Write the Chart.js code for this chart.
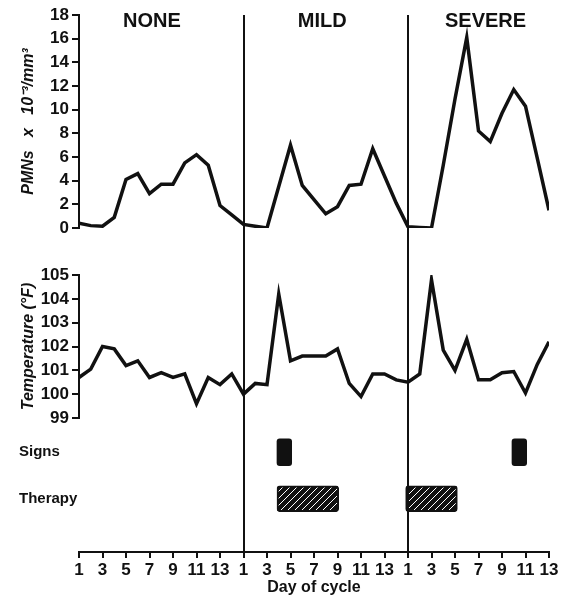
<!DOCTYPE html>
<html>
<head>
<meta charset="utf-8">
<title>PMNs and temperature by day of cycle</title>
<script src="https://cdn.jsdelivr.net/npm/chart.js@4.4.1/dist/chart.umd.min.js"></script>
<style>
  html, body { margin: 0; padding: 0; background: #fff; }
  #wrap { width: 565px; height: 596px; }
</style>
</head>
<body>
<div id="wrap"><canvas id="chart" width="565" height="596"></canvas></div>
<script>
// Day index runs 0..40 across the three cycles (14 + 14 + 13 days)
const cycleNames = ['NONE', 'MILD', 'SEVERE'];
const cycleStarts = [0, 14, 28];

// PMNs x 10^-3/mm^3, one value per day
const pmn = [
  0.4, 0.2, 0.15, 0.9, 4.1, 4.6, 2.9, 3.7, 3.7, 5.5, 6.2, 5.3, 1.9, 1.1,
  0.3, 0.15, 0.0, 3.5, 7.0, 3.6, 2.4, 1.2, 1.8, 3.6, 3.7, 6.7, 4.4, 2.1,
  0.1, 0.05, 0.0, 5.3, 10.9, 16.1, 8.2, 7.3, 9.7, 11.7, 10.3, 5.9, 1.5
];

// Temperature (°F), one value per day
const temperature = [
  100.7, 101.05, 102.0, 101.9, 101.2, 101.4, 100.7, 100.9, 100.7, 100.85, 99.6, 100.7, 100.4, 100.85,
  100.0, 100.45, 100.4, 104.2, 101.4, 101.6, 101.6, 101.6, 101.9, 100.45, 99.9, 100.85, 100.85, 100.6,
  100.5, 100.85, 104.8, 101.85, 101.0, 102.3, 100.6, 100.6, 100.9, 100.95, 100.05, 101.25, 102.2
];

// [start, end] on the day index
const signs = [[16.85, 18.1], [36.85, 38.1]];
const therapy = [[16.85, 22.1], [27.8, 32.2]];

const rowLabels = ['Signs', 'Therapy'];

const INK = '#111';
const FONT = '"Liberation Sans", Arial, sans-serif';
Chart.defaults.font.family = FONT;
Chart.defaults.color = INK;

function dayOfCycle(i) {
  let start = 0;
  cycleStarts.forEach(s => { if (i >= s) start = s; });
  return i - start + 1;
}

function hatchPattern() {
  const c = document.createElement('canvas');
  c.width = 7;
  c.height = 7;
  const g = c.getContext('2d');
  g.fillStyle = INK;
  g.fillRect(0, 0, 7, 7);
  g.strokeStyle = '#fff';
  g.lineWidth = 1;
  g.beginPath();
  g.moveTo(-1, 8);
  g.lineTo(8, -1);
  g.stroke();
  return g.createPattern(c, 'repeat');
}

const leftWidth = 60;
const fitLeft = scale => { scale.width = leftWidth; };

// empty scale used only to leave room in the left stack
function spacer(weight, stackWeight) {
  return {
    type: 'linear', position: 'left', stack: 'left', weight: weight, stackWeight: stackWeight,
    afterFit: fitLeft,
    grid: { display: false }, ticks: { display: false }, border: { display: false }
  };
}

// cycle dividers and cycle names
const cyclePlugin = {
  id: 'cycles',
  afterDraw(chart) {
    const { ctx, chartArea, scales } = chart;
    const x = scales.x;
    ctx.save();
    ctx.strokeStyle = INK;
    ctx.lineWidth = 2;
    cycleStarts.slice(1).forEach(s => {
      const px = Math.round(x.getPixelForValue(s));
      ctx.beginPath();
      ctx.moveTo(px, chartArea.top);
      ctx.lineTo(px, chartArea.bottom);
      ctx.stroke();
    });
    const labelAt = [6.2, 20.7, 34.6];
    ctx.fillStyle = INK;
    ctx.font = 'bold 20px ' + FONT;
    ctx.textAlign = 'center';
    ctx.textBaseline = 'middle';
    cycleNames.forEach((name, i) => ctx.fillText(name, x.getPixelForValue(labelAt[i]), 21));
    ctx.restore();
  }
};

const tickFont = { size: 17, weight: 'bold' };
const axisTitleFont = { size: 16, weight: 'bold', style: 'italic', lineHeight: 1.2 };

new Chart(document.getElementById('chart'), {
  type: 'line',
  data: {
    datasets: [
      {
        label: 'PMNs',
        data: pmn.map((v, i) => ({ x: i, y: v })),
        xAxisID: 'x', yAxisID: 'yP',
        borderColor: INK, borderWidth: 3.5, pointRadius: 0, tension: 0, fill: false
      },
      {
        label: 'Temperature',
        data: temperature.map((v, i) => ({ x: i, y: v })),
        xAxisID: 'x', yAxisID: 'yT',
        borderColor: INK, borderWidth: 3.5, pointRadius: 0, tension: 0, fill: false
      },
      {
        type: 'bar', label: 'Signs', indexAxis: 'y', grouped: false,
        data: signs.map(r => ({ x: r, y: rowLabels[0] })),
        xAxisID: 'x', yAxisID: 'yS',
        backgroundColor: INK, borderColor: INK, borderWidth: 0,
        borderRadius: 3, borderSkipped: false, barThickness: 27
      },
      {
        type: 'bar', label: 'Therapy', indexAxis: 'y', grouped: false,
        data: therapy.map(r => ({ x: r, y: rowLabels[1] })),
        xAxisID: 'x', yAxisID: 'yS',
        backgroundColor: hatchPattern(), borderColor: INK, borderWidth: 2,
        borderRadius: 3, borderSkipped: false, barThickness: 26
      }
    ]
  },
  options: {
    responsive: false,
    animation: false,
    devicePixelRatio: 1,
    layout: { padding: { left: 19, right: 16, top: 15, bottom: 0 } },
    plugins: { legend: { display: false }, tooltip: { enabled: false } },
    scales: {
      x: {
        type: 'linear', min: 0, max: 40,
        afterFit: s => { s.height = 44; },
        border: { color: INK, width: 2 },
        grid: { drawOnChartArea: false, color: INK, lineWidth: 2, tickLength: 6 },
        ticks: {
          stepSize: 2, padding: 2, color: INK, font: tickFont,
          maxRotation: 0, autoSkip: false,
          callback: v => dayOfCycle(v)
        },
        title: {
          display: true, text: 'Day of cycle', color: INK, padding: 0,
          font: { size: 16, weight: 'bold', lineHeight: 1 }
        }
      },
      yP: {
        type: 'linear', position: 'left', stack: 'left', weight: 6, stackWeight: 213,
        min: 0, max: 18, afterFit: fitLeft,
        border: { color: INK, width: 2 },
        grid: { drawOnChartArea: false, color: INK, lineWidth: 2, tickLength: 7 },
        ticks: { stepSize: 2, padding: 3, color: INK, font: tickFont, autoSkip: false },
        title: {
          display: true, text: 'PMNs   x   10\u207B\u00B3/mm\u00B3', color: INK, padding: 0,
          font: axisTitleFont
        }
      },
      gap1: spacer(5, 47),
      yT: {
        type: 'linear', position: 'left', stack: 'left', weight: 4, stackWeight: 143,
        min: 99, max: 105, afterFit: fitLeft,
        border: { color: INK, width: 2 },
        grid: { drawOnChartArea: false, color: INK, lineWidth: 2, tickLength: 7 },
        ticks: { stepSize: 1, padding: 3, color: INK, font: tickFont, autoSkip: false },
        title: {
          display: true, text: 'Temperature (\u00B0F)', color: INK, padding: 0,
          font: axisTitleFont
        }
      },
      gap2: spacer(3, 11),
      yS: {
        type: 'category', position: 'left', stack: 'left', weight: 2, stackWeight: 93,
        labels: rowLabels, offset: true, afterFit: fitLeft,
        border: { display: false },
        grid: { display: false },
        ticks: { crossAlign: 'far', color: INK, font: { size: 15, weight: 'bold' } }
      },
      gap3: spacer(1, 30)
    }
  },
  plugins: [cyclePlugin]
});
</script>
</body>
</html>
